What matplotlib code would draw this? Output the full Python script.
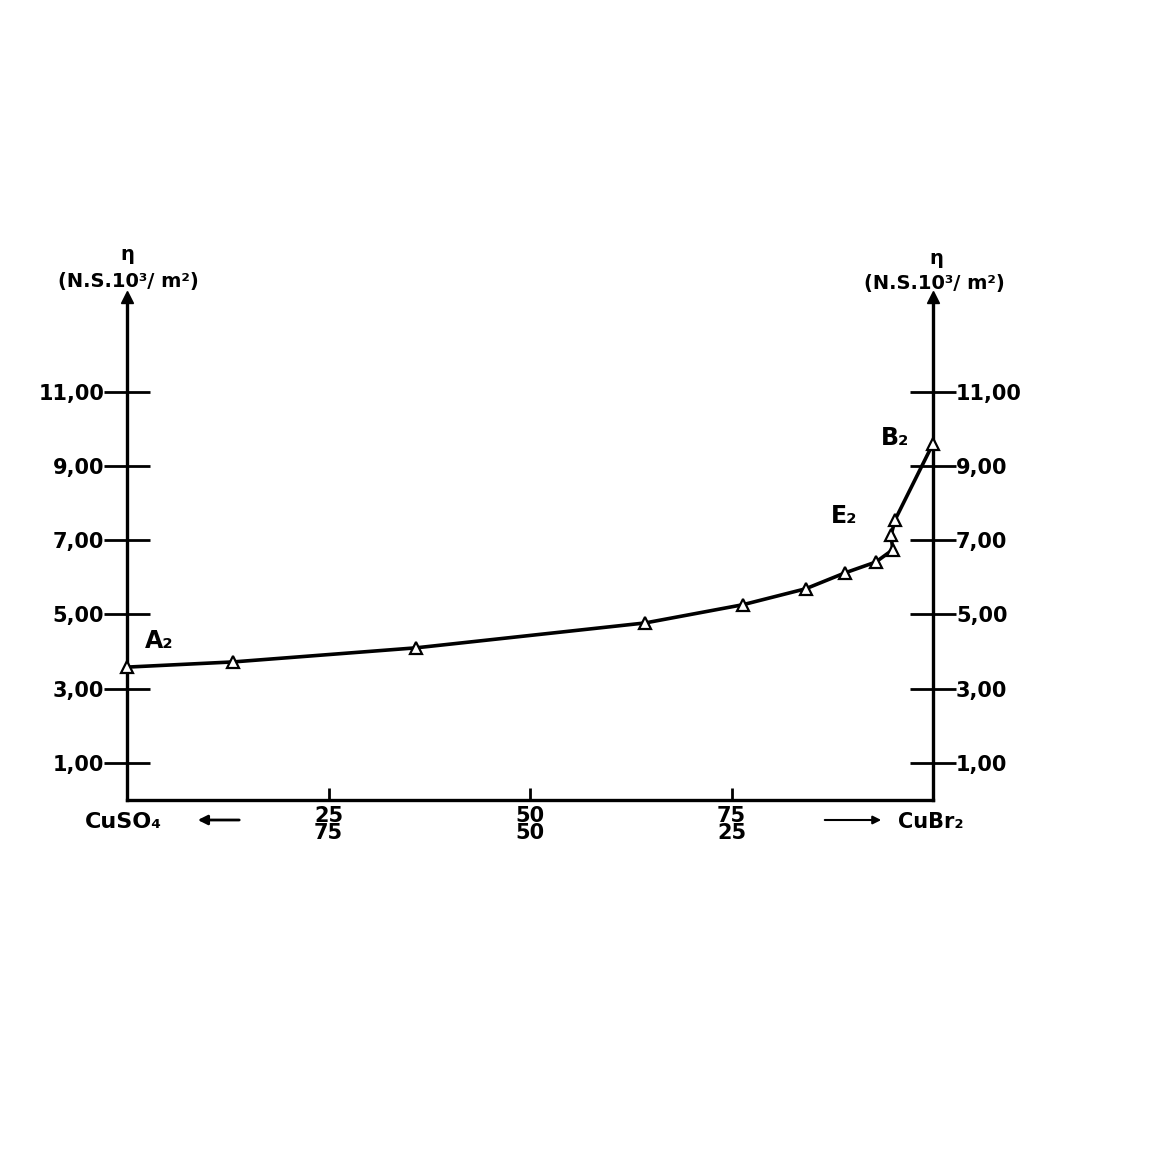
import matplotlib.pyplot as plt
import numpy as np

# composition (% CuBr2) and viscosity values
comp = [0, 13.2, 35.9, 64.3, 76.4, 84.2, 89.1, 92.9, 95.0, 94.8, 95.3, 100]
eta = [3.58, 3.72, 4.10, 4.77, 5.26, 5.69, 6.12, 6.41, 6.74, 7.14, 7.55, 9.60]

yticks = [1, 3, 5, 7, 9, 11]
ytick_labels = ['1,00', '3,00', '5,00', '7,00', '9,00', '11,00']
xticks = [25, 50, 75]
xtick_labels = ['25\n75', '50\n50', '75\n25']

W, H = 1167, 1159
plt.rcParams['font.family'] = ['DejaVu Sans']
plt.rcParams['font.weight'] = 'bold'


def px(x, y):
    return x / W, 1 - y / H


fig = plt.figure(figsize=(W / 100, H / 100), dpi=100)
# axes box: x from 127 to 933 px, y from 800 (bottom) to 297 (top)
ax = fig.add_axes([127 / W, 1 - 800 / H, (933 - 127) / W, (800 - 297) / H])
ax.set_xlim(0, 100)
ax.set_ylim(0, 13.55)

for s in ['left', 'right', 'bottom']:
    ax.spines[s].set_linewidth(2.4)
ax.spines['top'].set_visible(False)

# arrow heads on the two vertical axes
ax.plot([0, 100], [1, 1], '^k', ms=9, transform=ax.get_xaxis_transform(), clip_on=False)

ax.set_yticks(yticks)
ax.set_yticklabels(ytick_labels, fontsize=15, fontweight='heavy')
ax.tick_params(axis='y', direction='inout', length=33, width=2,
               left=True, right=True, labelleft=True, labelright=True, pad=0)

ax.set_xticks(xticks)
ax.set_xticklabels(xtick_labels, fontsize=15, fontweight='heavy', linespacing=0.85)
ax.tick_params(axis='x', direction='in', length=9, width=2, pad=4)

ax.plot(comp, eta, color='black', lw=2.6, marker='^', ms=9,
        mfc='white', mec='black', mew=1.6, clip_on=False, zorder=3)

ax.text(2.2, 4.1, 'A₂', fontsize=17, fontweight='heavy')
ax.text(87.3, 7.45, 'E₂', fontsize=17, fontweight='heavy')
ax.text(93.5, 9.55, 'B₂', fontsize=17, fontweight='heavy')

# axis titles
fig.text(*px(127, 254), 'η', ha='center', va='center', fontsize=14, fontweight='heavy')
fig.text(*px(128, 282), '(N.S.10³/ m²)', ha='center', va='center', fontsize=14, fontweight='heavy')
fig.text(*px(936, 258), 'η', ha='center', va='center', fontsize=14, fontweight='heavy')
fig.text(*px(934, 284), '(N.S.10³/ m²)', ha='center', va='center', fontsize=14, fontweight='heavy')

# component labels with arrows
fig.text(*px(85, 822), 'CuSO₄', ha='left', va='center', fontsize=16, fontweight='heavy')
ax.annotate('', xy=px(195, 820), xytext=px(242, 820), xycoords='figure fraction',
            textcoords='figure fraction',
            arrowprops=dict(arrowstyle='-|>', color='black', lw=2, mutation_scale=14))
fig.text(*px(898, 822), 'CuBr₂', ha='left', va='center', fontsize=15, fontweight='heavy')
ax.annotate('', xy=px(884, 820), xytext=px(822, 820), xycoords='figure fraction',
            textcoords='figure fraction',
            arrowprops=dict(arrowstyle='-|>', color='black', lw=1.5, mutation_scale=12))

fig.savefig('out.png', dpi=100, facecolor='white')
